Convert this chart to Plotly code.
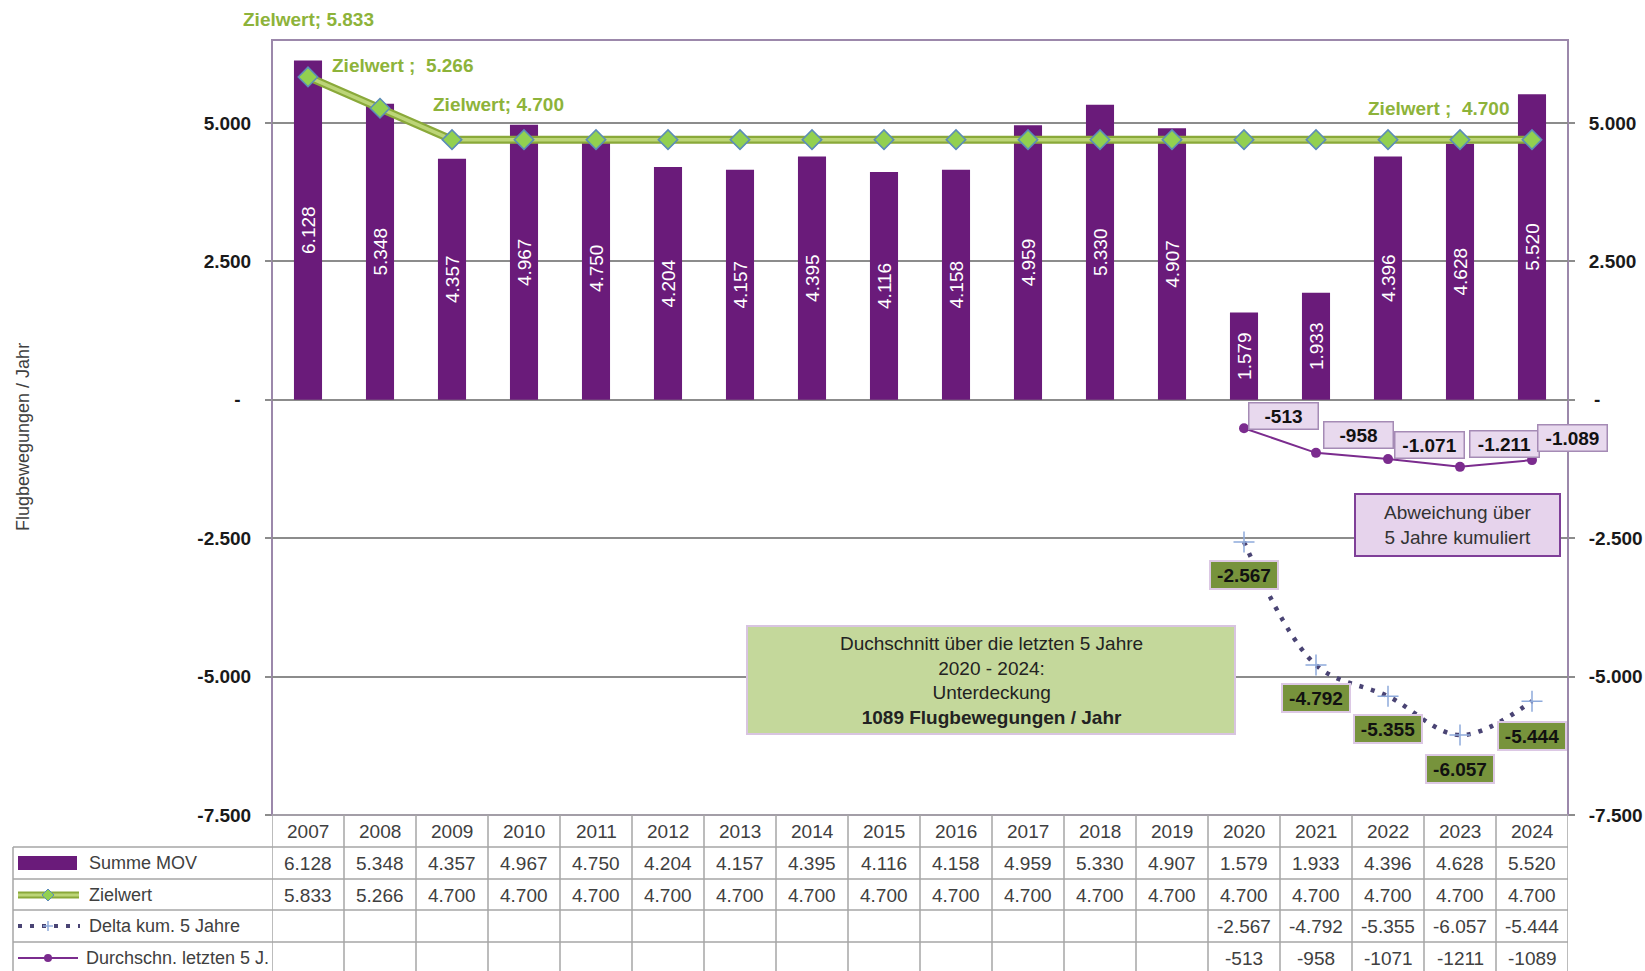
import plotly.graph_objects as go

# ---------------- data ----------------
years = list(range(2007, 2025))
summe_mov = [6128, 5348, 4357, 4967, 4750, 4204, 4157, 4395, 4116, 4158,
             4959, 5330, 4907, 1579, 1933, 4396, 4628, 5520]
zielwert = [5833, 5266] + [4700] * 16
delta_years = [2020, 2021, 2022, 2023, 2024]
delta_kum = [-2567, -4792, -5355, -6057, -5444]
durchschn = [-513, -958, -1071, -1211, -1089]
tick_vals = [-7500, -5000, -2500, 0, 2500, 5000]
tick_text_left = ["-7.500", "-5.000", "-2.500", "-\u00a0\u00a0", "2.500", "5.000"]
tick_text_right = ["-7.500", "-5.000", "-2.500", "\u00a0-", "2.500", "5.000"]
row_names = ["Summe MOV", "Zielwert", "Delta kum. 5 Jahre", "Durchschn. letzten 5 J."]


def de(v):
    s = f"{abs(v):,}".replace(",", ".")
    return ("-" if v < 0 else "") + s


# ---------------- layout constants ----------------
W, H = 1645, 971
L, R, T, B = 272, 1568, 40, 815
PURPLE = "#6a1b7a"
LINE_PURPLE = "#7b2c8e"
GREEN_TXT = "#8db33a"
FONT = "Liberation Sans, Arial, sans-serif"
TFONT = "Liberation Sans Narrow, Arial Narrow, Liberation Sans, sans-serif"


def PX(px):
    return (px - L) / (R - L)


def PY(py):
    return (B - py) / (B - T)


fig = go.Figure()

fig.add_trace(go.Bar(
    x=years, y=summe_mov, width=0.39,
    marker=dict(color=PURPLE, line=dict(width=0)),
    text=[de(v) for v in summe_mov], textposition="inside", textangle=-90,
    insidetextanchor="middle",
    textfont=dict(color="white", size=19, family=FONT),
    hoverinfo="skip"))

fig.add_trace(go.Scatter(x=years, y=zielwert, mode="lines",
                         line=dict(color="#8aa93a", width=8), hoverinfo="skip"))
fig.add_trace(go.Scatter(x=years, y=zielwert, mode="lines+markers",
                         line=dict(color="#bcd577", width=3.5),
                         marker=dict(symbol="diamond", size=15, color="#92d050",
                                     line=dict(color="#5b8cb8", width=1.5)),
                         hoverinfo="skip"))

fig.add_trace(go.Scatter(x=delta_years, y=delta_kum, mode="lines+markers",
                         line=dict(color="#4a4474", width=4.5, dash="4px,8px",
                                   shape="spline"),
                         marker=dict(symbol="cross-thin", size=15,
                                     line=dict(color="#8eaadb", width=1.5)),
                         hoverinfo="skip"))

fig.add_trace(go.Scatter(x=delta_years, y=durchschn, mode="lines+markers",
                         line=dict(color=LINE_PURPLE, width=2),
                         marker=dict(symbol="circle", size=10, color=LINE_PURPLE),
                         hoverinfo="skip"))

# invisible trace for right axis
fig.add_trace(go.Scatter(x=[years[0]], y=[0], yaxis="y2", mode="markers",
                         marker=dict(opacity=0), hoverinfo="skip"))

annotations = []
shapes = []


def ann(**kw):
    base = dict(showarrow=False, xanchor="center", yanchor="middle", align="center")
    base.update(kw)
    annotations.append(base)


# Zielwert labels
ziel_label_pos = [(0, 0, 57, "Zielwert; "), (1, 23, 43, "Zielwert ;  "),
                  (2, 46, 35, "Zielwert; "), (16, -21, 31, "Zielwert ;  ")]
for idx, xs, ys, prefix in ziel_label_pos:
    ann(x=years[idx], y=zielwert[idx], xref="x", yref="y",
        text=f"<b>{prefix}{de(zielwert[idx])}</b>", xshift=xs, yshift=ys,
        font=dict(size=19, color=GREEN_TXT, family=FONT))

# Durchschnitt labels
avg_off = [(39, 12), (42, 18), (41, 14), (44, 23), (40, 22)]
for yr, v, (xs, ys) in zip(delta_years, durchschn, avg_off):
    ann(x=yr, y=v, xref="x", yref="y", text=f"<b>{de(v)}</b>",
        xshift=xs, yshift=ys, width=64, height=21,
        bgcolor="#e8d9ee", bordercolor="#a58bb5", borderwidth=1.5, borderpad=2,
        font=dict(size=19, color="#111111", family=FONT))

# Delta labels
delta_off = [33, 33, 33, 34, 35]
for yr, v, ys in zip(delta_years, delta_kum, delta_off):
    ann(x=yr, y=v, xref="x", yref="y", text=f"<b>{de(v)}</b>",
        yshift=-ys, width=62, height=22,
        bgcolor="#77933c", bordercolor="#dcc8e4", borderwidth=2, borderpad=2,
        font=dict(size=19, color="#111111", family=FONT))

# boxes
shapes.append(dict(type="rect", xref="paper", yref="paper",
                   x0=PX(1355), x1=PX(1560), y0=PY(556), y1=PY(494),
                   fillcolor="#e6d3ec", line=dict(color="#7f3f98", width=2)))
ann(x=PX(1457), y=PY(525), xref="paper", yref="paper",
    text="Abweichung über<br>5 Jahre kumuliert",
    font=dict(size=19, color="#333333", family=FONT))
shapes.append(dict(type="rect", xref="paper", yref="paper",
                   x0=PX(747), x1=PX(1235), y0=PY(734), y1=PY(626),
                   fillcolor="#c4d89b", line=dict(color="#d8c4e0", width=2)))
ann(x=PX(991), y=PY(680), xref="paper", yref="paper",
    text=("Duchschnitt über die letzten 5 Jahre<br>"
          f"{delta_years[0]} - {delta_years[-1]}:<br>Unterdeckung<br>"
          f"<b>{abs(durchschn[-1])} Flugbewegungen / Jahr</b>"),
    font=dict(size=19, color="#222222", family=FONT))

# y axis title
ann(x=PX(23), y=PY(437), xref="paper", yref="paper",
    text="Flugbewegungen / Jahr", textangle=-90,
    font=dict(size=18, color="#404040", family=FONT))

# plot frame
shapes.append(dict(type="rect", xref="paper", yref="paper", x0=0, x1=1, y0=0, y1=1,
                   line=dict(color="#9c88ab", width=2), layer="below"))

# ---------------- table ----------------
GRID = "#a6a6a6"
row_lines = [847, 879, 910, 942]
for py in row_lines:
    shapes.append(dict(type="line", xref="paper", yref="paper",
                       x0=PX(13), x1=1, y0=PY(py), y1=PY(py),
                       line=dict(color=GRID, width=1.5)))
shapes.append(dict(type="line", xref="paper", yref="paper", x0=0, x1=1,
                   y0=0, y1=0, line=dict(color=GRID, width=1.5)))
for k in range(len(years) + 1):
    xv = years[0] - 0.5 + k
    shapes.append(dict(type="line", xref="x", yref="paper", x0=xv, x1=xv,
                       y0=0, y1=PY(975), line=dict(color=GRID, width=1.5)))
shapes.append(dict(type="line", xref="paper", yref="paper", x0=PX(13), x1=PX(13),
                   y0=PY(847), y1=PY(975), line=dict(color=GRID, width=1.5)))

row_centers = [831, 863, 895, 926, 958]
TCOL = "#404040"
tfont = dict(size=19, color=TCOL, family=TFONT)
for yr in years:
    ann(x=yr, y=PY(row_centers[0]), xref="x", yref="paper", text=str(yr), font=tfont)
for yr, v in zip(years, summe_mov):
    ann(x=yr, y=PY(row_centers[1]), xref="x", yref="paper", text=de(v), font=tfont)
for yr, v in zip(years, zielwert):
    ann(x=yr, y=PY(row_centers[2]), xref="x", yref="paper", text=de(v), font=tfont)
for yr, v in zip(delta_years, delta_kum):
    ann(x=yr, y=PY(row_centers[3]), xref="x", yref="paper", text=de(v), font=tfont)
for yr, v in zip(delta_years, durchschn):
    ann(x=yr, y=PY(row_centers[4]), xref="x", yref="paper", text=str(v), font=tfont)

# legend column
text_x = [87, 87, 87, 84]
lfont = dict(size=18, color=TCOL, family=TFONT)
for name, py, tx in zip(row_names, row_centers[1:], text_x):
    ann(x=PX(tx), y=PY(py), xref="paper", yref="paper", text=name,
        xanchor="left", font=lfont)

# legend symbols
shapes.append(dict(type="rect", xref="paper", yref="paper",
                   x0=PX(18), x1=PX(77), y0=PY(870), y1=PY(856),
                   fillcolor=PURPLE, line=dict(width=0)))
shapes.append(dict(type="line", xref="paper", yref="paper", x0=PX(18), x1=PX(79),
                   y0=PY(895), y1=PY(895), line=dict(color="#8aa93a", width=7)))
shapes.append(dict(type="line", xref="paper", yref="paper", x0=PX(18), x1=PX(79),
                   y0=PY(895), y1=PY(895), line=dict(color="#bcd577", width=3)))
cx, cy, d = 48, 895, 6
shapes.append(dict(type="path", xref="paper", yref="paper",
                   path=(f"M {PX(cx)},{PY(cy - d)} L {PX(cx + d)},{PY(cy)} "
                         f"L {PX(cx)},{PY(cy + d)} L {PX(cx - d)},{PY(cy)} Z"),
                   fillcolor="#92d050", line=dict(color="#5b8cb8", width=1)))
shapes.append(dict(type="line", xref="paper", yref="paper", x0=PX(18), x1=PX(80),
                   y0=PY(926), y1=PY(926),
                   line=dict(color="#4a4474", width=4, dash="4px,8px")))
shapes.append(dict(type="line", xref="paper", yref="paper", x0=PX(43), x1=PX(53),
                   y0=PY(926), y1=PY(926), line=dict(color="#8eaadb", width=1.5)))
shapes.append(dict(type="line", xref="paper", yref="paper", x0=PX(48), x1=PX(48),
                   y0=PY(921), y1=PY(931), line=dict(color="#8eaadb", width=1.5)))
shapes.append(dict(type="line", xref="paper", yref="paper", x0=PX(18), x1=PX(78),
                   y0=PY(958), y1=PY(958), line=dict(color=LINE_PURPLE, width=2)))
shapes.append(dict(type="circle", xref="paper", yref="paper",
                   x0=PX(44), x1=PX(52), y0=PY(962), y1=PY(954),
                   fillcolor=LINE_PURPLE, line=dict(width=0)))

yax_common = dict(range=[-7500, 6500], tickvals=tick_vals, ticks="outside",
                  ticklen=6, tickwidth=1.5, tickcolor="#8c8c8c",
                  tickfont=dict(size=19, color="#1a1a1a", family=FONT, weight="bold"),
                  ticklabelstandoff=10, zeroline=False, fixedrange=True,
                  automargin=False)

fig.update_layout(
    width=W, height=H, autosize=False,
    margin=dict(l=L, r=W - R, t=T, b=H - B, pad=0),
    paper_bgcolor="white", plot_bgcolor="white",
    showlegend=False, hovermode=False, barmode="overlay",
    xaxis=dict(range=[years[0] - 0.5, years[-1] + 0.5], showticklabels=False,
               showgrid=False, zeroline=False, ticks="", fixedrange=True,
               automargin=False),
    yaxis=dict(**yax_common, ticktext=tick_text_left, showgrid=True,
               gridcolor="#8c8c8c", gridwidth=1.5),
    yaxis2=dict(**yax_common, ticktext=tick_text_right, overlaying="y", side="right",
                showgrid=False),
    annotations=annotations, shapes=shapes,
    font=dict(family=FONT),
)

fig.write_html("out.html", config={"displayModeBar": False},
               post_script="document.body.style.margin='0';"
                           "document.body.style.overflow='hidden';")
